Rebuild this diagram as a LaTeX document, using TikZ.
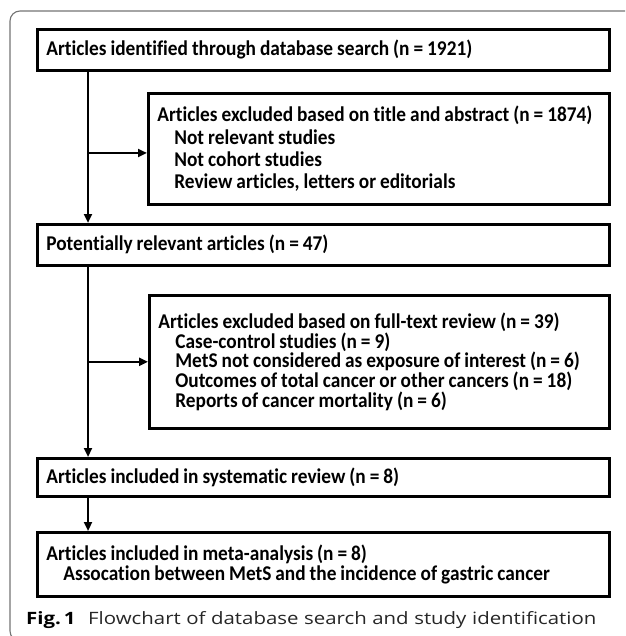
\documentclass[tikz,border=0pt]{standalone}
\usepackage{fontspec}
\setmainfont{Carlito}[FakeStretch=0.92, Ligatures=NoCommon]
\newfontfamily\capfont{Open Sans}[FakeStretch=1.2, WordSpace=1.05]
\newcommand\tsp{\spaceskip=0.19em plus 0.04em\relax}
\usetikzlibrary{arrows.meta}
\begin{document}
\begin{tikzpicture}[x=1pt,y=-1pt,
  box/.style={draw=black, line width=2.7pt, rectangle, anchor=north west,
    inner xsep=9pt, inner ysep=0pt, align=left,
    font=\fontsize{21}{22.3}\selectfont\bfseries},
  arr/.style={line width=2.7pt, -{Triangle[length=9pt,width=8pt]}},
  frame/.style={draw=black!55, line width=1.1pt, rounded corners=10pt},
  captxt/.style={anchor=base west, inner sep=0pt, text=black!85,
    font=\capfont\fontsize{17}{20}\selectfont}]
\useasboundingbox (0,0) rectangle (625,636);
\begin{scope}
  \clip (0,0) rectangle (625,636);
  \draw[frame] (10,11) rectangle (660,641);
\end{scope}

\node[box, minimum width=572pt, text width=554pt, minimum height=41pt] (b1) at (36,28)
  {\tsp Articles identified through database search (n = 1921)};
\node[box, minimum width=461pt, text width=443pt, minimum height=111pt] (b2) at (147,92)
  {\tsp Articles excluded based on title and abstract (n = 1874)\\
   \hspace*{17pt}Not relevant studies\\
   \hspace*{17pt}Not cohort studies\\
   \hspace*{17pt}Review articles, letters or editorials};
\node[box, minimum width=572pt, text width=554pt, minimum height=41pt] (b3) at (36,223)
  {\tsp Potentially relevant articles (n = 47)};
\node[box, minimum width=460pt, text width=442pt, minimum height=133pt,
  font=\fontsize{21}{19.7}\selectfont\bfseries] (b4) at (148,294)
  {\tsp Articles excluded based on full-text review (n = 39)\\
   \hspace*{17pt}Case-control studies (n = 9)\\
   \hspace*{17pt}MetS not considered as exposure of interest (n = 6)\\
   \hspace*{17pt}Outcomes of total cancer or other cancers (n = 18)\\
   \hspace*{17pt}Reports of cancer mortality (n = 6)};
\node[box, minimum width=572pt, text width=554pt, minimum height=38pt] (b5) at (36,457)
  {\tsp Articles included in systematic review (n = 8)};
\node[box, minimum width=572pt, text width=554pt, minimum height=64pt,
  font=\fontsize{21}{20}\selectfont\bfseries] (b6) at (36,531)
  {\tsp Articles included in meta-analysis (n = 8)\\
   \hspace*{17pt}Assocation between MetS and the incidence of gastric cancer};

\coordinate (spine) at (88,0);
\coordinate (j1) at (88,153);
\draw[arr] (b1.south -| spine) -- (b3.north -| spine);
\draw[arr] (j1) -- (j1 -| b2.west);
\draw[arr] (b3.south -| spine) -- (b5.north -| spine);
\draw[arr] (b4.west -| spine) -- (b4.west);
\draw[arr] (b5.south -| spine) -- (b6.north -| spine);

\node[captxt, font=\capfont\bfseries\fontsize{17}{20}\selectfont, text=black] (figlbl) at (26,624) {Fig.\,1};
\node[captxt] (figcap) at (88,624) {Flowchart of database search and study identification};
\end{tikzpicture}
\end{document}
